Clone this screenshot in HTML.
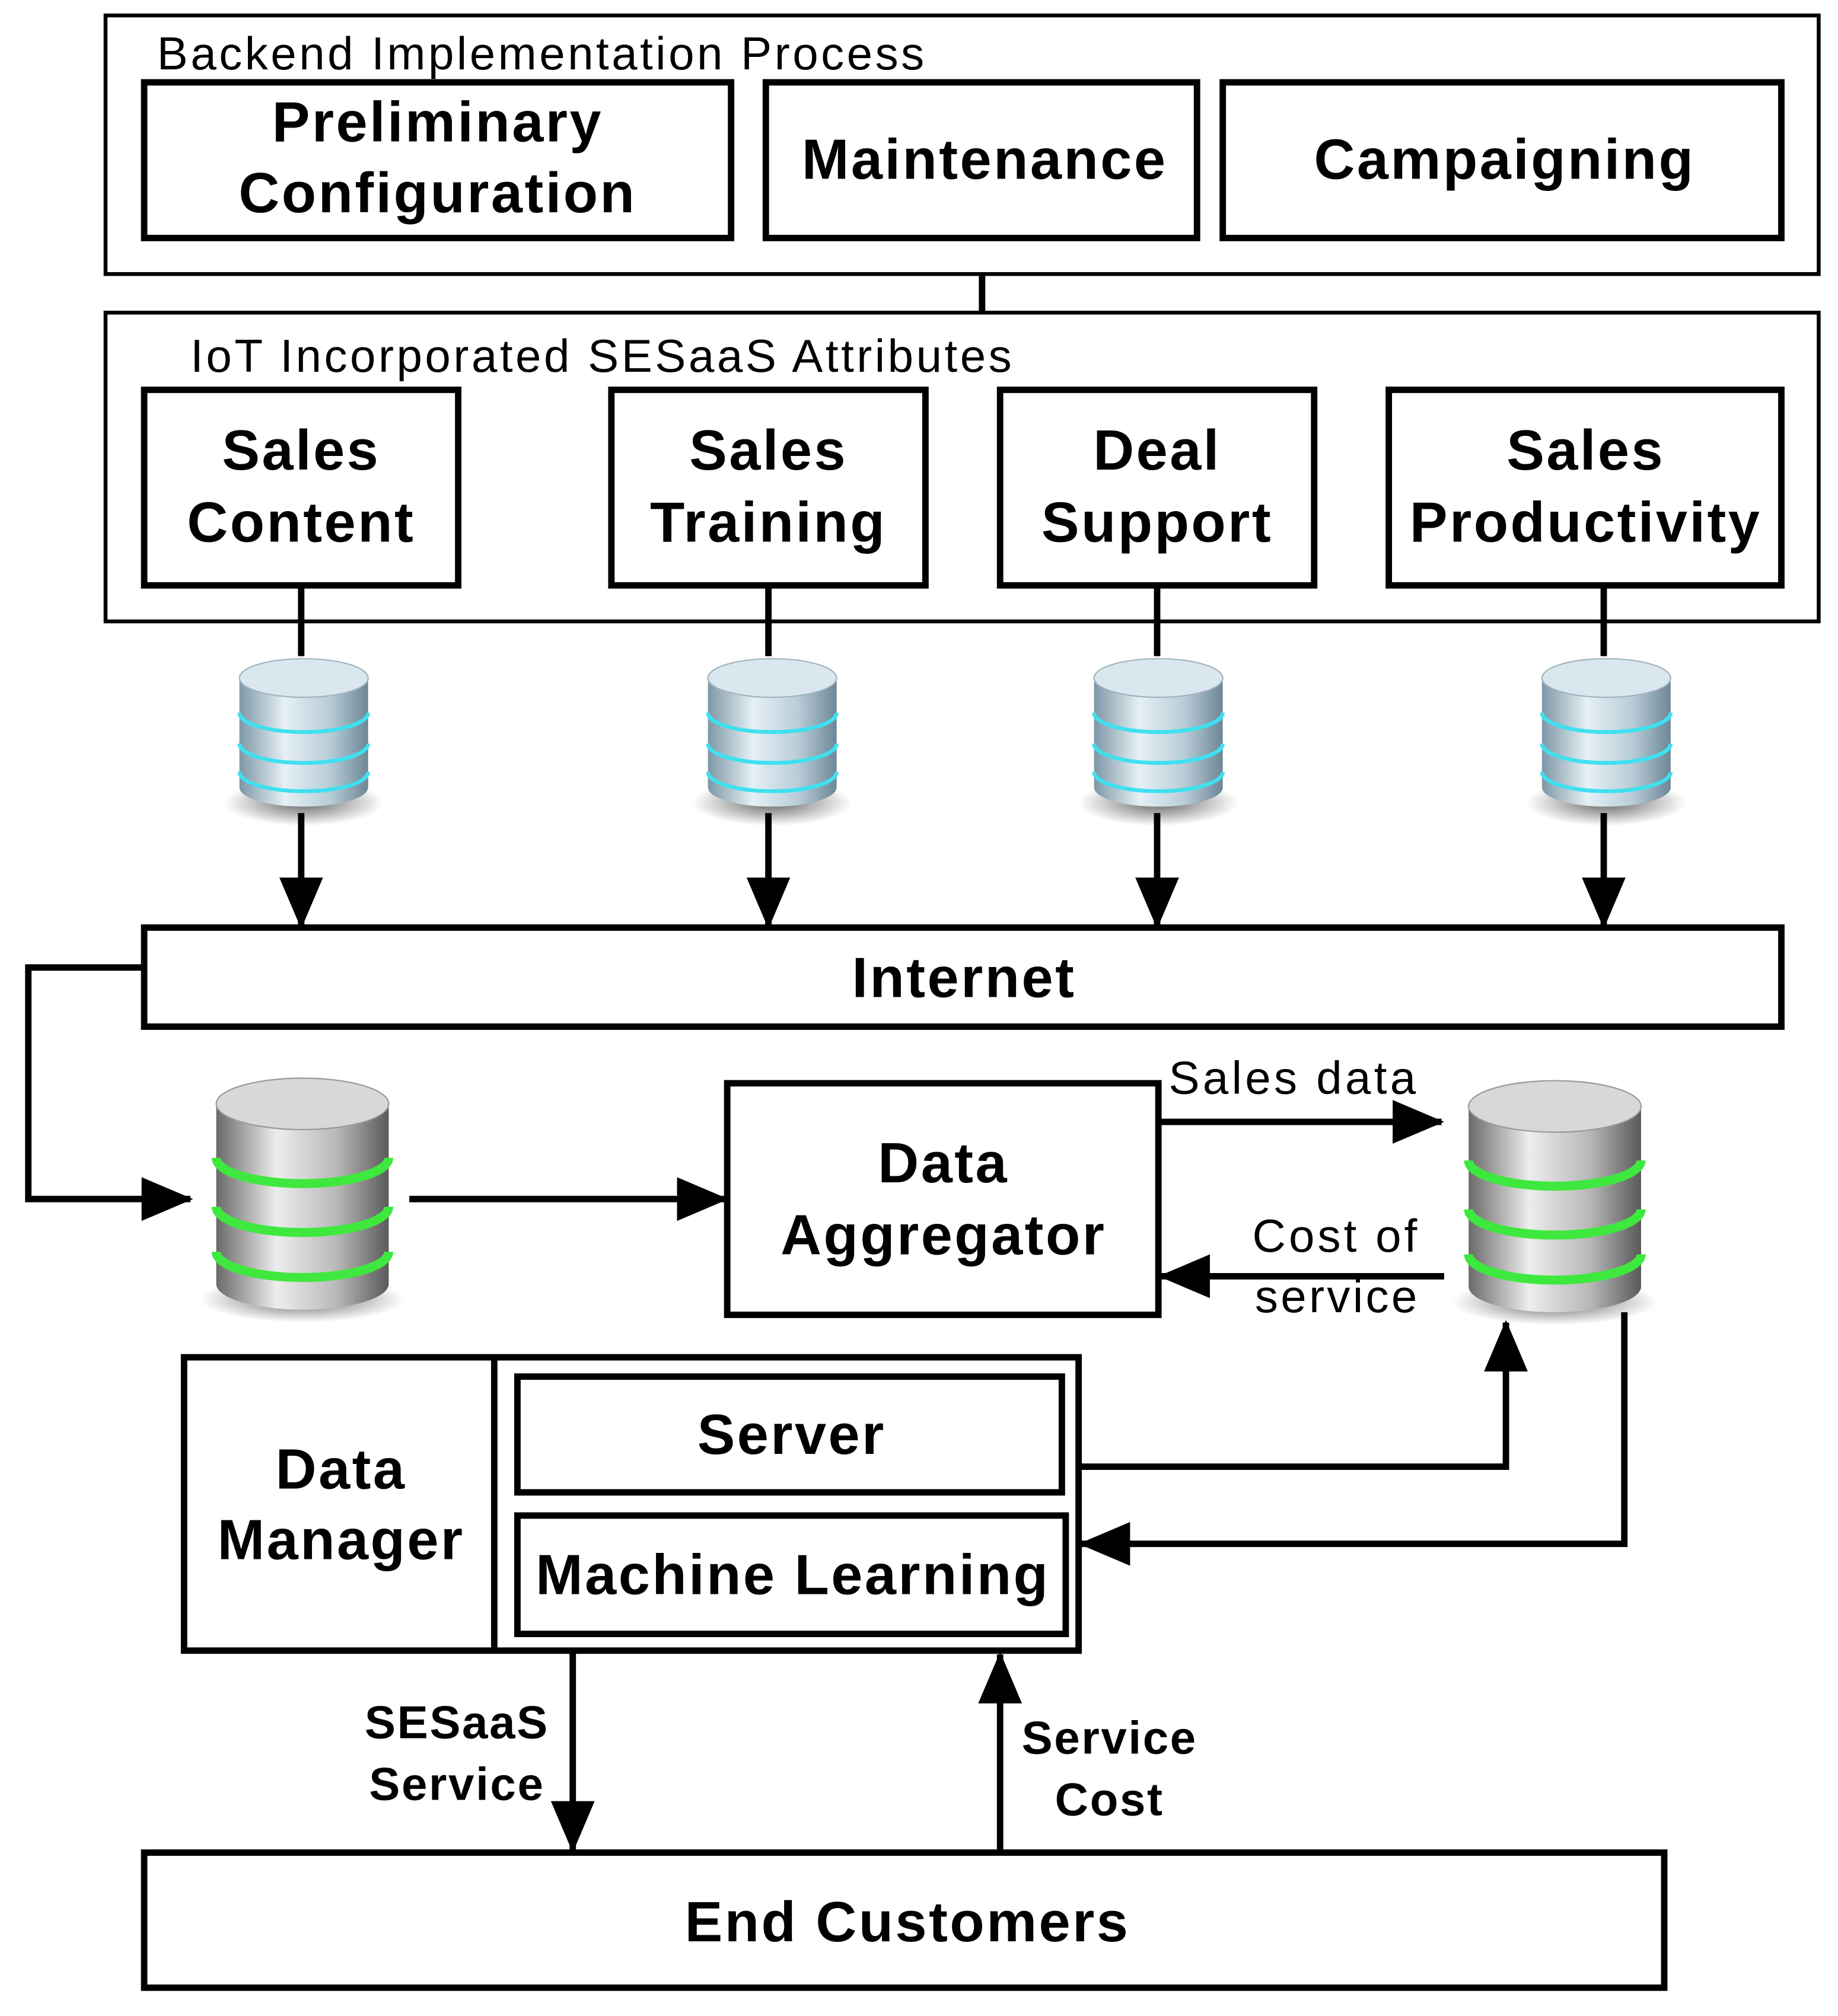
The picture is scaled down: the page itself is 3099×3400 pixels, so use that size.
<!DOCTYPE html>
<html><head><meta charset="utf-8"><style>html,body{margin:0;padding:0;background:#fff}svg{display:block}</style></head>
<body>
<svg width="3099" height="3400" viewBox="0 0 1428 1567" preserveAspectRatio="none" xmlns="http://www.w3.org/2000/svg" font-family="Liberation Sans, Arial, sans-serif">
<defs>
<linearGradient id="bl" x1="0" x2="1" y1="0" y2="0">
<stop offset="0" stop-color="#7e97a6"/><stop offset="0.35" stop-color="#e6f0f5"/><stop offset="0.7" stop-color="#b9cdd8"/><stop offset="1" stop-color="#6d8796"/></linearGradient>
<linearGradient id="gr" x1="0" x2="1" y1="0" y2="0">
<stop offset="0" stop-color="#6a6a6a"/><stop offset="0.35" stop-color="#ededed"/><stop offset="0.7" stop-color="#b8b8b8"/><stop offset="1" stop-color="#5a5a5a"/></linearGradient>
<radialGradient id="sh"><stop offset="0" stop-color="#000" stop-opacity="0.6"/><stop offset="1" stop-color="#000" stop-opacity="0"/></radialGradient>
<marker id="ah" markerWidth="40" markerHeight="34" refX="38" refY="17" orient="auto" markerUnits="userSpaceOnUse" viewBox="0 0 40 34"><path d="M0,0 L40,17 L0,34 z" fill="#000"/></marker>
<g id="bdb">
<ellipse cx="0" cy="112" rx="62" ry="18" fill="url(#sh)"/>
<path d="M-50,15 V100 A50,15 0 0 0 50,100 V15 z" fill="url(#bl)"/>
<path d="M-50,42 A50,15 0 0 0 50,42 M-50,66 A50,15 0 0 0 50,66 M-50,88 A50,15 0 0 0 50,88" fill="none" stroke="#3fe0f0" stroke-width="3"/>
<ellipse cx="0" cy="15" rx="50" ry="15" fill="#dbe7ee" stroke="#9fb4c0"/>
</g>
<g id="gdb">
<ellipse cx="0" cy="172" rx="80" ry="18" fill="url(#sh)"/>
<path d="M-67,20 V160 A67,20 0 0 0 67,160 V20 z" fill="url(#gr)"/>
<path d="M-67,62 A67,20 0 0 0 67,62 M-67,100 A67,20 0 0 0 67,100 M-67,135 A67,20 0 0 0 67,135" fill="none" stroke="#3ee83e" stroke-width="7"/>
<ellipse cx="0" cy="20" rx="67" ry="20" fill="#d8d8d8" stroke="#999"/>
</g>
</defs>
<g fill="none" stroke="#000">
<rect x="82" y="12" width="1331" height="201" stroke-width="3"/>
<rect x="112" y="64" width="456" height="121" stroke-width="5"/>
<rect x="595" y="64" width="335" height="121" stroke-width="5"/>
<rect x="950" y="64" width="434" height="121" stroke-width="5"/>
<line x1="763" y1="213" x2="763" y2="243" stroke-width="5"/>
<rect x="82" y="243" width="1331" height="240" stroke-width="3"/>
<rect x="112" y="303" width="244" height="152" stroke-width="5"/>
<rect x="475" y="303" width="244" height="152" stroke-width="5"/>
<rect x="777" y="303" width="244" height="152" stroke-width="5"/>
<rect x="1079" y="303" width="305" height="152" stroke-width="5"/>
<g stroke-width="5">
<line x1="234" y1="455" x2="234" y2="510"/><line x1="597" y1="455" x2="597" y2="510"/><line x1="899" y1="455" x2="899" y2="510"/><line x1="1246" y1="455" x2="1246" y2="510"/>
<line x1="234" y1="632" x2="234" y2="720" marker-end="url(#ah)"/>
<line x1="597" y1="632" x2="597" y2="720" marker-end="url(#ah)"/>
<line x1="899" y1="632" x2="899" y2="720" marker-end="url(#ah)"/>
<line x1="1246" y1="632" x2="1246" y2="720" marker-end="url(#ah)"/>
</g>
<rect x="112" y="721" width="1272" height="77" stroke-width="5"/>
<polyline points="112,752 22,752 22,932 148,932" stroke-width="5" marker-end="url(#ah)"/>
<line x1="318" y1="932" x2="564" y2="932" stroke-width="5" marker-end="url(#ah)"/>
<rect x="565" y="842" width="335" height="180" stroke-width="5"/>
<line x1="902" y1="872" x2="1120" y2="872" stroke-width="5" marker-end="url(#ah)"/>
<line x1="1122" y1="992" x2="902" y2="992" stroke-width="5" marker-end="url(#ah)"/>
<rect x="143" y="1055" width="695" height="228" stroke-width="5"/>
<line x1="384" y1="1055" x2="384" y2="1283" stroke-width="5"/>
<rect x="402" y="1070" width="423" height="90" stroke-width="5"/>
<rect x="402" y="1178" width="426" height="92" stroke-width="5"/>
<polyline points="840,1140 1170,1140 1170,1028" stroke-width="5" marker-end="url(#ah)"/>
<polyline points="1262,1020 1262,1200 840,1200" stroke-width="5" marker-end="url(#ah)"/>
<line x1="445" y1="1283" x2="445" y2="1438" stroke-width="5" marker-end="url(#ah)"/>
<line x1="777" y1="1438" x2="777" y2="1286" stroke-width="5" marker-end="url(#ah)"/>
<rect x="112" y="1440" width="1181" height="105" stroke-width="5"/>
</g>
<use href="#bdb" x="236" y="512"/><use href="#bdb" x="600" y="512"/><use href="#bdb" x="900" y="512"/><use href="#bdb" x="1248" y="512"/>
<use href="#gdb" x="235" y="838"/><use href="#gdb" x="1208" y="840"/>
<g font-size="36">
<text x="122" y="54" textLength="596">Backend Implementation Process</text>
<text x="148" y="289" textLength="638">IoT Incorporated SESaaS Attributes</text>
<text x="908" y="850" textLength="192">Sales data</text>
<text x="973" y="973" textLength="128">Cost of</text>
<text x="975" y="1020" textLength="126">service</text>
</g>
<g font-size="44" font-weight="bold" text-anchor="middle" letter-spacing="1.6">
<text x="340" y="110">Preliminary</text><text x="340" y="165">Configuration</text>
<text x="765" y="139">Maintenance</text>
<text x="1169" y="139">Campaigning</text>
<text x="234" y="365">Sales</text><text x="234" y="421">Content</text>
<text x="597" y="365">Sales</text><text x="597" y="421">Training</text>
<text x="899" y="365">Deal</text><text x="899" y="421">Support</text>
<text x="1232" y="365">Sales</text><text x="1232" y="421">Productivity</text>
<text x="749" y="775">Internet</text>
<text x="733" y="919">Data</text><text x="733" y="975">Aggregator</text>
<text x="265" y="1157">Data</text><text x="265" y="1212">Manager</text>
<text x="615" y="1130">Server</text>
<text x="616" y="1239">Machine Learning</text>
<text x="705" y="1509">End Customers</text>
</g>
<g font-size="36" font-weight="bold" text-anchor="middle" letter-spacing="1.2">
<text x="355" y="1351">SESaaS</text><text x="355" y="1399">Service</text>
<text x="862" y="1363">Service</text><text x="862" y="1411">Cost</text>
</g>
</svg>
</body></html>
